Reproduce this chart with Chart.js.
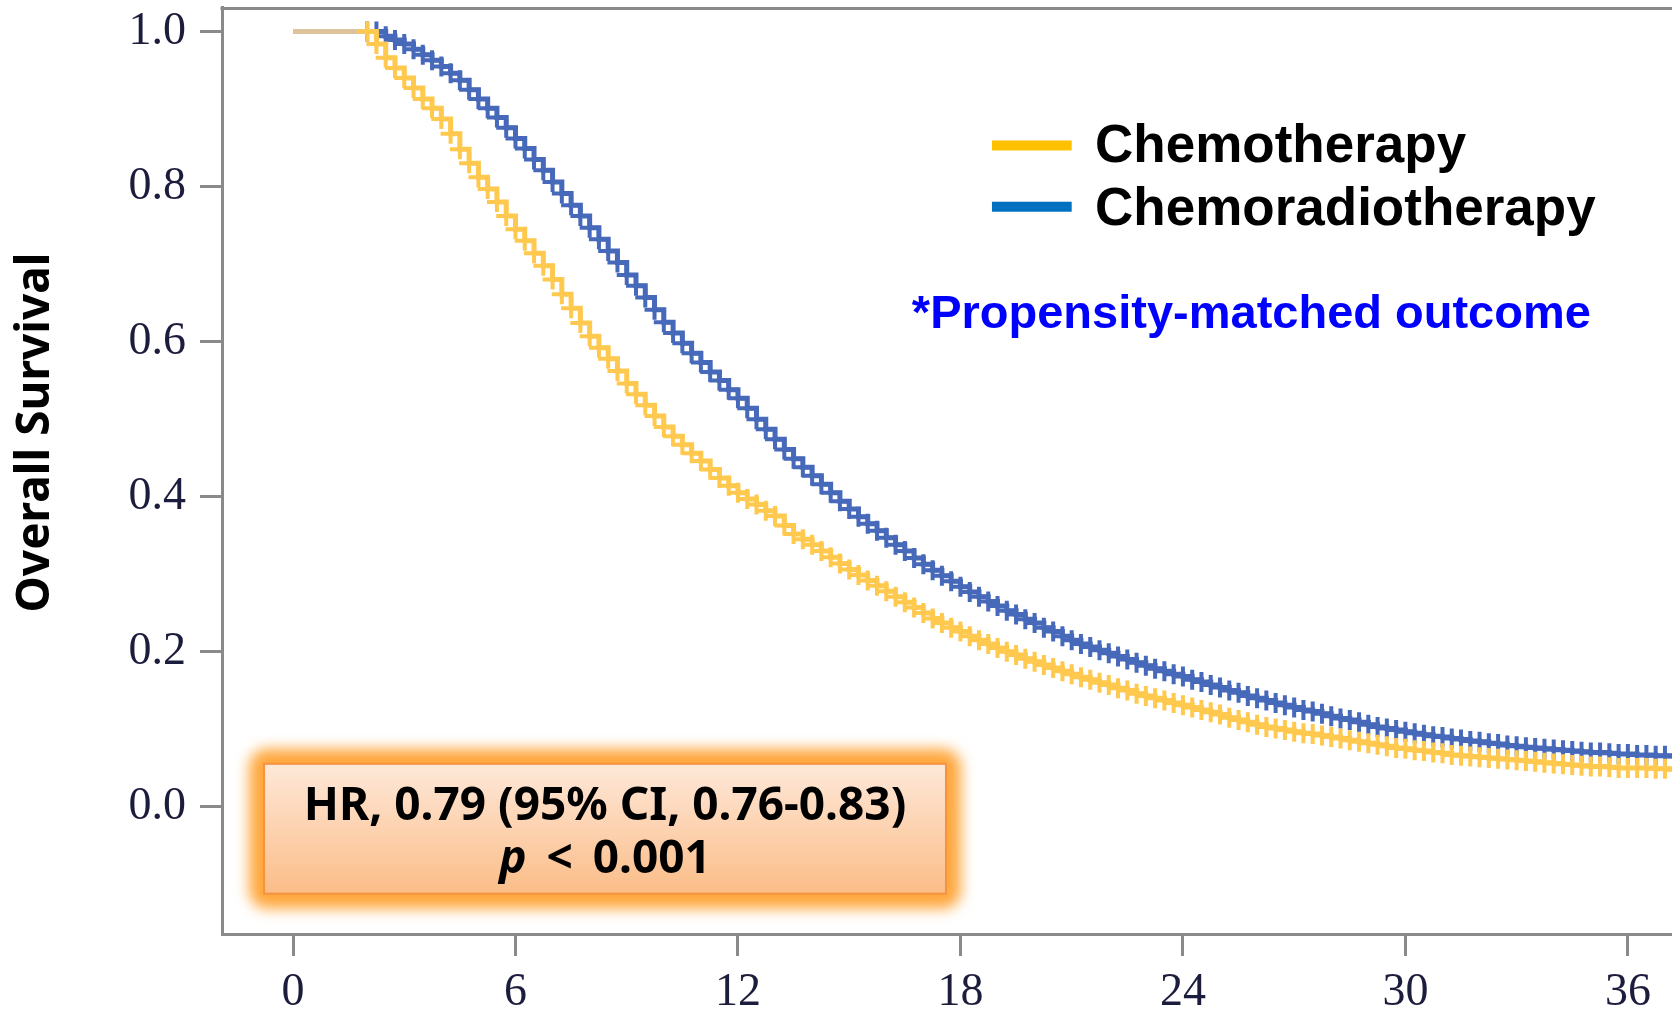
<!DOCTYPE html>
<html>
<head>
<meta charset="utf-8">
<title>Overall Survival</title>
<script src="https://cdn.jsdelivr.net/npm/chart.js@4.4.1/dist/chart.umd.min.js"></script>
<style>
  html, body { margin: 0; padding: 0; background: #ffffff; }
  #wrap { width: 1672px; height: 1012px; position: relative; }
</style>
</head>
<body>
<div id="wrap"><canvas id="os_chart"></canvas></div>
<script>
// months since treatment, shared by both curves (one row per month)
const months = [0,
    2, 2.25, 2.5, 2.75,
    3, 3.25, 3.5, 3.75,
    4, 4.25, 4.5, 4.75,
    5, 5.25, 5.5, 5.75,
    6, 6.25, 6.5, 6.75,
    7, 7.25, 7.5, 7.75,
    8, 8.25, 8.5, 8.75,
    9, 9.25, 9.5, 9.75,
    10, 10.25, 10.5, 10.75,
    11, 11.25, 11.5, 11.75,
    12, 12.25, 12.5, 12.75,
    13, 13.25, 13.5, 13.75,
    14, 14.25, 14.5, 14.75,
    15, 15.25, 15.5, 15.75,
    16, 16.25, 16.5, 16.75,
    17, 17.25, 17.5, 17.75,
    18, 18.25, 18.5, 18.75,
    19, 19.25, 19.5, 19.75,
    20, 20.25, 20.5, 20.75,
    21, 21.25, 21.5, 21.75,
    22, 22.25, 22.5, 22.75,
    23, 23.25, 23.5, 23.75,
    24, 24.25, 24.5, 24.75,
    25, 25.25, 25.5, 25.75,
    26, 26.25, 26.5, 26.75,
    27, 27.25, 27.5, 27.75,
    28, 28.25, 28.5, 28.75,
    29, 29.25, 29.5, 29.75,
    30, 30.25, 30.5, 30.75,
    31, 31.25, 31.5, 31.75,
    32, 32.25, 32.5, 32.75,
    33, 33.25, 33.5, 33.75,
    34, 34.25, 34.5, 34.75,
    35, 35.25, 35.5, 35.75,
    36, 36.25, 36.5, 36.75,
    37, 37.25, 37.5];

const chemo_survival = [1.000,
    1.000, 0.984, 0.966, 0.953,
    0.940, 0.927, 0.913, 0.901,
    0.887, 0.868, 0.848, 0.830,
    0.812, 0.797, 0.780, 0.762,
    0.745, 0.730, 0.714, 0.698,
    0.680, 0.661, 0.643, 0.624,
    0.607, 0.592, 0.578, 0.562,
    0.546, 0.532, 0.518, 0.504,
    0.490, 0.478, 0.467, 0.456,
    0.446, 0.435, 0.424, 0.414,
    0.405, 0.397, 0.390, 0.382,
    0.375, 0.363, 0.352, 0.345,
    0.338, 0.330, 0.322, 0.314,
    0.306, 0.299, 0.292, 0.285,
    0.278, 0.271, 0.264, 0.257,
    0.250, 0.243, 0.237, 0.231,
    0.226, 0.220, 0.215, 0.210,
    0.205, 0.200, 0.196, 0.191,
    0.187, 0.183, 0.179, 0.175,
    0.171, 0.167, 0.164, 0.160,
    0.157, 0.153, 0.150, 0.146,
    0.143, 0.140, 0.137, 0.134,
    0.131, 0.128, 0.125, 0.122,
    0.119, 0.115, 0.112, 0.109,
    0.106, 0.103, 0.101, 0.099,
    0.097, 0.095, 0.094, 0.092,
    0.090, 0.088, 0.086, 0.084,
    0.082, 0.080, 0.078, 0.076,
    0.075, 0.073, 0.072, 0.070,
    0.069, 0.067, 0.066, 0.065,
    0.064, 0.063, 0.062, 0.061,
    0.060, 0.059, 0.058, 0.057,
    0.056, 0.055, 0.054, 0.053,
    0.052, 0.052, 0.051, 0.050,
    0.050, 0.050, 0.050, 0.049,
    0.049, 0.048, 0.048];

const crt_survival = [1.000,
    1.000, 1.000, 0.994, 0.989,
    0.984, 0.977, 0.970, 0.963,
    0.955, 0.946, 0.937, 0.925,
    0.913, 0.901, 0.889, 0.876,
    0.862, 0.849, 0.835, 0.821,
    0.806, 0.791, 0.776, 0.762,
    0.747, 0.732, 0.717, 0.702,
    0.686, 0.672, 0.657, 0.641,
    0.625, 0.611, 0.598, 0.585,
    0.573, 0.561, 0.550, 0.538,
    0.527, 0.514, 0.500, 0.487,
    0.474, 0.461, 0.449, 0.438,
    0.427, 0.416, 0.405, 0.394,
    0.384, 0.374, 0.365, 0.356,
    0.347, 0.338, 0.330, 0.321,
    0.313, 0.305, 0.298, 0.291,
    0.284, 0.277, 0.271, 0.265,
    0.259, 0.253, 0.248, 0.242,
    0.237, 0.231, 0.226, 0.220,
    0.215, 0.210, 0.206, 0.202,
    0.198, 0.194, 0.190, 0.186,
    0.182, 0.178, 0.175, 0.171,
    0.168, 0.164, 0.161, 0.157,
    0.154, 0.150, 0.147, 0.143,
    0.140, 0.137, 0.134, 0.131,
    0.128, 0.125, 0.123, 0.120,
    0.117, 0.114, 0.112, 0.109,
    0.106, 0.103, 0.101, 0.099,
    0.097, 0.095, 0.093, 0.091,
    0.090, 0.088, 0.087, 0.085,
    0.084, 0.082, 0.081, 0.079,
    0.078, 0.077, 0.076, 0.075,
    0.074, 0.073, 0.072, 0.071,
    0.070, 0.070, 0.069, 0.068,
    0.068, 0.067, 0.067, 0.066,
    0.066, 0.065, 0.065];

const series_labels = ["Chemotherapy", "Chemoradiotherapy"];
const x_ticks = [0, 6, 12, 18, 24, 30, 36];
const y_ticks = [0.0, 0.2, 0.4, 0.6, 0.8, 1.0];

const y_title = "Overall Survival";
const note_text = "*Propensity-matched outcome";
const hr_text = "HR, 0.79 (95% CI, 0.76-0.83)";
const p_text = ["p", " <", " 0.001"];

const line_colors = ["#ffc94f", "#4769ba"];
const legend_colors = ["#ffc000", "#0070c0"];
const start_color = "#dcc39b";
const frame_color = "#8a8a8a";

// positions of the extra drawings, in axis units (months, survival)
const legend_pos = { x0: 18.85, x1: 21.0, text_x: 21.63, rows: [0.853, 0.774], baselines: [0.832, 0.751] };
const note_pos = { x: 16.69, y: 0.618 };
const hr_box = { x0: -0.78, x1: 17.61, y0: 0.0555, y1: -0.112 };

function toPoints(ys)
{
    return months.map((m, i) => ({ x: m, y: ys[i] }));
}

const extras_plugin =
{
    id: "extras",
    afterDraw(chart)
    {
        const ctx = chart.ctx;
        const area = chart.chartArea;
        const xs = chart.scales.x;
        const ys = chart.scales.y;

        // top frame line
        ctx.save();
        ctx.strokeStyle = frame_color;
        ctx.lineWidth = 3;
        ctx.beginPath();
        ctx.moveTo(area.left - 1.5, area.top + 1.5);
        ctx.lineTo(area.right, area.top + 1.5);
        ctx.stroke();

        // y axis title
        ctx.save();
        ctx.translate(36, (area.top + area.bottom) / 2 - 38);
        ctx.rotate(-Math.PI / 2);
        ctx.font = "bold 46px 'Noto Sans'";
        ctx.fillStyle = "#000000";
        ctx.textAlign = "center";
        ctx.textBaseline = "middle";
        ctx.fillText(y_title, 0, 0);
        ctx.restore();

        // legend
        series_labels.forEach((label, i) =>
        {
            const yy = ys.getPixelForValue(legend_pos.rows[i]);
            ctx.fillStyle = legend_colors[i];
            ctx.fillRect(xs.getPixelForValue(legend_pos.x0), yy - 5,
                xs.getPixelForValue(legend_pos.x1) - xs.getPixelForValue(legend_pos.x0), 10);
            ctx.fillStyle = "#000000";
            ctx.font = "bold 53px 'Liberation Sans'";
            ctx.textAlign = "left";
            ctx.textBaseline = "alphabetic";
            ctx.fillText(label, xs.getPixelForValue(legend_pos.text_x), ys.getPixelForValue(legend_pos.baselines[i]));
        });

        // note
        ctx.fillStyle = "#0000ff";
        ctx.font = "bold 47px 'Liberation Sans'";
        ctx.fillText(note_text, xs.getPixelForValue(note_pos.x), ys.getPixelForValue(note_pos.y));

        // HR box with glow
        const bx0 = xs.getPixelForValue(hr_box.x0);
        const bx1 = xs.getPixelForValue(hr_box.x1);
        const by0 = ys.getPixelForValue(hr_box.y0);
        const by1 = ys.getPixelForValue(hr_box.y1);
        const bw = bx1 - bx0;
        const bh = by1 - by0;

        ctx.save();
        ctx.filter = "blur(7px)";
        ctx.fillStyle = "#ffa73d";
        ctx.beginPath();
        ctx.roundRect(bx0 - 15, by0 - 15, bw + 30, bh + 30, 18);
        ctx.fill();
        ctx.restore();

        const grad = ctx.createLinearGradient(0, by0, 0, by1);
        grad.addColorStop(0, "#fee8d9");
        grad.addColorStop(1, "#fbbd88");
        ctx.fillStyle = grad;
        ctx.fillRect(bx0, by0, bw, bh);
        ctx.strokeStyle = "#f7923e";
        ctx.lineWidth = 2;
        ctx.strokeRect(bx0, by0, bw, bh);

        const cx = (bx0 + bx1) / 2;
        ctx.fillStyle = "#000000";
        ctx.textBaseline = "alphabetic";
        ctx.textAlign = "center";
        ctx.font = "bold 46px 'Noto Sans'";
        ctx.fillText(hr_text, cx, by0 + bh * 0.43);

        // second line: italic p, then "<" and the value, with the wide gaps of the original
        const italic_font = "italic bold 46px 'Noto Sans'";
        const plain_font = "bold 46px 'Noto Sans'";
        const gap = 8;
        ctx.font = italic_font;
        const w1 = ctx.measureText(p_text[0]).width;
        ctx.font = plain_font;
        const w2 = ctx.measureText(p_text[1]).width;
        const w3 = ctx.measureText(p_text[2]).width;
        const start = cx - (w1 + w2 + w3 + 2 * gap) / 2;
        const base2 = by0 + bh * 0.84;
        ctx.textAlign = "left";
        ctx.font = italic_font;
        ctx.fillText(p_text[0], start, base2);
        ctx.font = plain_font;
        ctx.fillText(p_text[1], start + w1 + gap, base2);
        ctx.fillText(p_text[2], start + w1 + w2 + 2 * gap, base2);

        ctx.restore();
    }
};

const os_chart = new Chart("os_chart",
{
    type: "line",
    data:
    {
        datasets:
        [
            {
                label: series_labels[0],
                data: toPoints(chemo_survival),
                stepped: true,
                borderColor: line_colors[0],
                borderWidth: 5,
                pointStyle: "cross",
                pointRadius: (c) => c.dataIndex === 0 ? 0 : 10,
                pointBorderWidth: 4,
                pointBorderColor: line_colors[0],
                pointBackgroundColor: line_colors[0],
                segment:
                {
                    borderColor: (c) => c.p0DataIndex === 0 ? start_color : undefined
                }
            },
            {
                label: series_labels[1],
                data: toPoints(crt_survival),
                stepped: true,
                borderColor: line_colors[1],
                borderWidth: 5,
                pointStyle: "cross",
                pointRadius: (c) => c.dataIndex === 0 ? 0 : 10,
                pointBorderWidth: 4,
                pointBorderColor: line_colors[1],
                pointBackgroundColor: line_colors[1]
            }
        ]
    },
    options:
    {
        responsive: true,
        maintainAspectRatio: false,
        animation: false,
        layout:
        {
            autoPadding: false,
            padding: { top: 7, right: 0, bottom: 0, left: 0 }
        },
        plugins:
        {
            legend: { display: false },
            tooltip: { enabled: false },
            title: { display: false }
        },
        scales:
        {
            x:
            {
                type: "linear",
                min: -1.915,
                max: 37.19,
                afterBuildTicks: (scale) => { scale.ticks = x_ticks.map(v => ({ value: v })); },
                afterFit: (scale) =>
                {
                    scale.height = 78;
                    scale.paddingLeft = 0;
                    scale.paddingRight = 0;
                },
                ticks:
                {
                    color: "#1c1c3c",
                    padding: 9,
                    maxRotation: 0,
                    font: { family: "'Liberation Serif'", size: 46 }
                },
                grid:
                {
                    drawOnChartArea: false,
                    tickLength: 22,
                    tickWidth: 3,
                    tickColor: frame_color
                },
                border: { display: true, color: frame_color, width: 3 }
            },
            y:
            {
                min: -0.164,
                max: 1.0316,
                afterBuildTicks: (scale) => { scale.ticks = y_ticks.map(v => ({ value: v })); },
                afterFit: (scale) =>
                {
                    scale.width = 222;
                    scale.paddingTop = 0;
                    scale.paddingBottom = 0;
                },
                ticks:
                {
                    color: "#1c1c3c",
                    padding: 14,
                    callback: (v) => Number(v).toFixed(1),
                    font: { family: "'Liberation Serif'", size: 46 }
                },
                grid:
                {
                    drawOnChartArea: false,
                    tickLength: 22,
                    tickWidth: 3,
                    tickColor: frame_color
                },
                border: { display: true, color: frame_color, width: 3 }
            }
        }
    },
    plugins: [extras_plugin]
});
</script>
</body>
</html>
